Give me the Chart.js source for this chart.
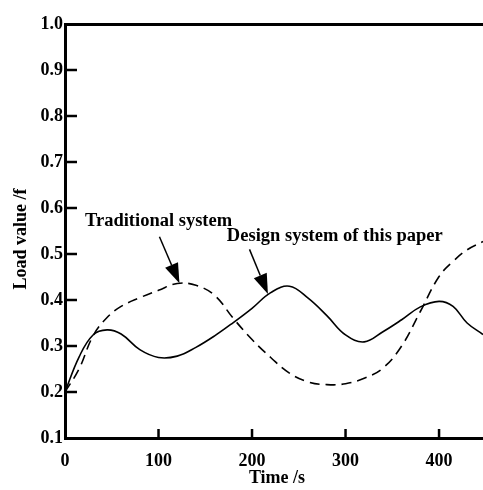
<!DOCTYPE html>
<html>
<head>
<meta charset="utf-8">
<script src="https://cdn.jsdelivr.net/npm/chart.js@4"></script>
<style>
  html, body { margin: 0; padding: 0; background: #fff; }
  #wrap { width: 483px; height: 490px; }
</style>
</head>
<body>
<div id="wrap"><canvas id="loadChart"></canvas></div>
<script>
// time axis samples (s)
const times = [0, 15, 30, 45, 60, 80, 100, 120, 140, 160, 180, 200, 220, 240, 260, 280, 300, 320, 340, 360, 380, 400, 415, 430, 447];
// design system of this paper (solid)
const designLoad = [0.2, 0.276, 0.324, 0.335, 0.326, 0.292, 0.275, 0.278, 0.297, 0.322, 0.351, 0.382, 0.416, 0.43, 0.404, 0.366, 0.324, 0.309, 0.331, 0.357, 0.385, 0.397, 0.386, 0.35, 0.325];
// traditional system (dashed)
const traditionalLoad = [0.2, 0.25, 0.322, 0.362, 0.386, 0.405, 0.421, 0.436, 0.432, 0.41, 0.36, 0.314, 0.275, 0.241, 0.222, 0.216, 0.218, 0.23, 0.252, 0.3, 0.375, 0.451, 0.484, 0.509, 0.527];
const xTicks = [0, 100, 200, 300, 400];
const yTicks = [0.1, 0.2, 0.3, 0.4, 0.5, 0.6, 0.7, 0.8, 0.9, 1.0];

const FONT = '"Liberation Serif", "Times New Roman", serif';

// labels with arrows, in data units
const notes = [
    { text: 'Traditional system', tx: 21.4, ty: 0.5615, from: [101, 0.5376], to: [122.4, 0.4363] },
    { text: 'Design system of this paper', tx: 173.1, ty: 0.529, from: [197.3, 0.51], to: [217, 0.413] }
];

function toPoints(ys) {
    return times.map((t, i) => ({ x: t, y: ys[i] }));
}

// inward ticks, axis titles and arrow labels
const decorPlugin = {
    id: 'decor',
    afterDraw(chart) {
        const ctx = chart.ctx;
        const xs = chart.scales.x;
        const ys = chart.scales.y;
        const area = chart.chartArea;
        ctx.save();
        ctx.strokeStyle = '#000';
        ctx.lineWidth = 2.5;
        yTicks.forEach(v => {
            if (v <= 0.1 || v >= 1.0) return;
            const py = ys.getPixelForValue(v);
            ctx.beginPath();
            ctx.moveTo(area.left, py);
            ctx.lineTo(area.left + 12, py);
            ctx.stroke();
        });
        xTicks.forEach(v => {
            if (v === 0) return;
            const px = xs.getPixelForValue(v);
            ctx.beginPath();
            ctx.moveTo(px, area.bottom);
            ctx.lineTo(px, area.bottom - 9);
            ctx.stroke();
        });

        ctx.fillStyle = '#000';
        ctx.font = 'bold 18px ' + FONT;
        ctx.textAlign = 'center';
        ctx.textBaseline = 'alphabetic';
        ctx.fillText('Time /s', (area.left + area.right) / 2 + 3, 483);

        ctx.save();
        ctx.translate(26, 239);
        ctx.rotate(-Math.PI / 2);
        ctx.fillText('Load value /f', 0, 0);
        ctx.restore();

        ctx.textAlign = 'left';
        ctx.font = 'bold 18.5px ' + FONT;
        notes.forEach(n => {
            ctx.fillText(n.text, xs.getPixelForValue(n.tx), ys.getPixelForValue(n.ty));
            const x1 = xs.getPixelForValue(n.from[0]), y1 = ys.getPixelForValue(n.from[1]);
            const x2 = xs.getPixelForValue(n.to[0]), y2 = ys.getPixelForValue(n.to[1]);
            const ang = Math.atan2(y2 - y1, x2 - x1);
            const headLen = 20, headW = 7;
            const bx = x2 - headLen * Math.cos(ang), by = y2 - headLen * Math.sin(ang);
            ctx.lineWidth = 1.5;
            ctx.beginPath();
            ctx.moveTo(x1, y1);
            ctx.lineTo(bx, by);
            ctx.stroke();
            ctx.beginPath();
            ctx.moveTo(x2, y2);
            ctx.lineTo(bx + headW * Math.sin(ang), by - headW * Math.cos(ang));
            ctx.lineTo(bx - headW * Math.sin(ang), by + headW * Math.cos(ang));
            ctx.closePath();
            ctx.fill();
        });
        ctx.restore();
    }
};

new Chart(document.getElementById('loadChart'), {
    type: 'line',
    data: {
        datasets: [
            {
                label: 'Design system of this paper',
                data: toPoints(designLoad),
                borderColor: '#000',
                borderWidth: 1.6,
                pointRadius: 0,
                tension: 0.4,
                fill: false
            },
            {
                label: 'Traditional system',
                data: toPoints(traditionalLoad),
                borderColor: '#000',
                borderWidth: 1.6,
                borderDash: [10, 6],
                pointRadius: 0,
                tension: 0.4,
                fill: false
            }
        ]
    },
    options: {
        responsive: true,
        maintainAspectRatio: false,
        animation: false,
        layout: { padding: { top: 24, right: 0, left: 0, bottom: 0 } },
        plugins: {
            legend: { display: false },
            tooltip: { enabled: false }
        },
        scales: {
            x: {
                type: 'linear',
                min: 0,
                max: 447,
                afterFit: s => { s.height = 52; },
                afterBuildTicks: s => { s.ticks = xTicks.map(v => ({ value: v })); },
                ticks: {
                    color: '#000',
                    font: { family: FONT, size: 18, weight: 'bold' },
                    padding: 13,
                    maxRotation: 0
                },
                grid: { drawOnChartArea: false, drawTicks: false },
                border: { display: true, color: '#000', width: 3 }
            },
            y: {
                min: 0.1,
                max: 1.0,
                afterFit: s => { s.width = 65; },
                afterBuildTicks: s => { s.ticks = yTicks.map(v => ({ value: v })); },
                ticks: {
                    color: '#000',
                    font: { family: FONT, size: 18, weight: 'bold' },
                    padding: 2,
                    callback: v => v.toFixed(1)
                },
                grid: {
                    drawTicks: false,
                    lineWidth: 3,
                    color: c => (c.tick && c.tick.value >= 0.999 ? '#000' : 'rgba(0,0,0,0)')
                },
                border: { display: true, color: '#000', width: 3 }
            }
        }
    },
    plugins: [decorPlugin]
});
</script>
</body>
</html>
